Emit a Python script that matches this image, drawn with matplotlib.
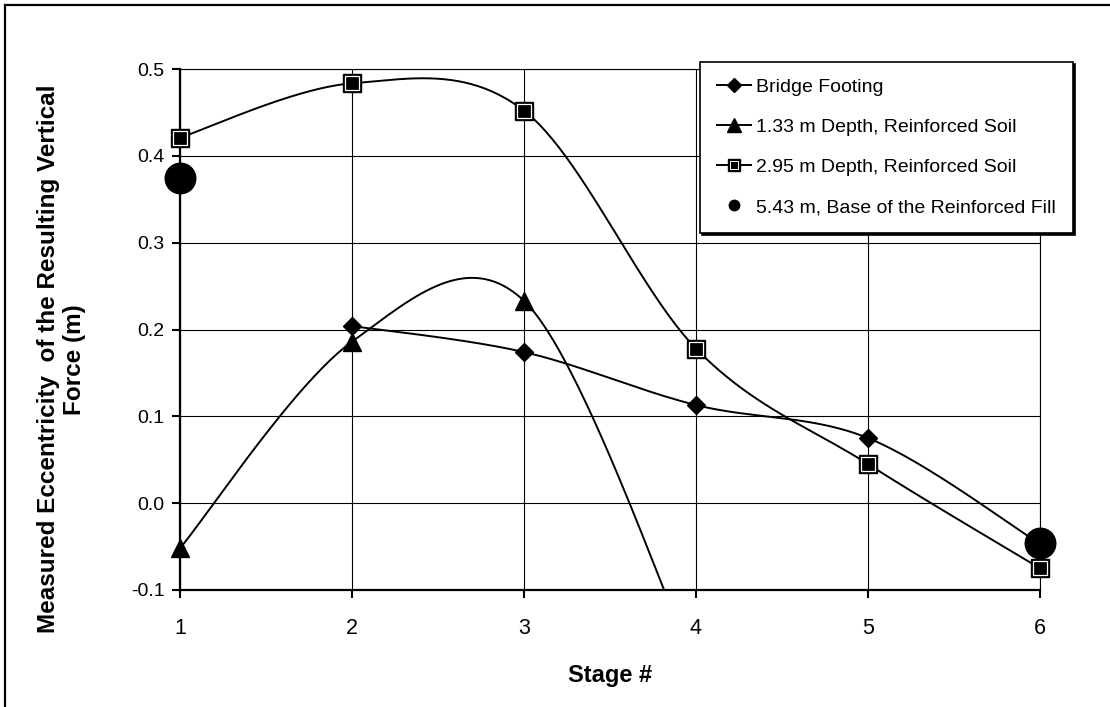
import numpy as np
import matplotlib
matplotlib.use("Agg")
import matplotlib.pyplot as plt
from matplotlib.lines import Line2D

plt.rcParams['font.family'] = ['Liberation Sans', 'DejaVu Sans']

# data
stages = [1, 2, 3, 4, 5, 6]
footing_x = [2, 3, 4, 5, 6]
footing_y = [0.204, 0.174, 0.113, 0.075, -0.047]
d133_x = [1, 2, 3, 4]
d133_y = [-0.052, 0.186, 0.233, -0.19]
d295_x = [1, 2, 3, 4, 5, 6]
d295_y = [0.421, 0.4835, 0.452, 0.178, 0.045, -0.075]
d543_x = [1, 6]
d543_y = [0.374, -0.046]

labels = ['Bridge Footing', '1.33 m Depth, Reinforced Soil',
          '2.95 m Depth, Reinforced Soil', '5.43 m, Base of the Reinforced Fill']


def smooth(x, y, n=50):
    # catmull-rom like the excel "smoothed line" option
    p = np.column_stack([x, y]).astype(float)
    p = np.vstack([p[0], p, p[-1]])
    out = []
    t = np.linspace(0, 1, n)[:, None]
    for i in range(1, len(p) - 2):
        p0, p1, p2, p3 = p[i - 1], p[i], p[i + 1], p[i + 2]
        m1 = (p2 - p0) / 2
        m2 = (p3 - p1) / 2
        h00 = 2 * t**3 - 3 * t**2 + 1
        h10 = t**3 - 2 * t**2 + t
        h01 = -2 * t**3 + 3 * t**2
        h11 = t**3 - t**2
        out.append(h00 * p1 + h10 * m1 + h01 * p2 + h11 * m2)
    out = np.vstack(out)
    return out[:, 0], out[:, 1]


fig = plt.figure(figsize=(11.1, 7.07), dpi=100)
ax = fig.add_axes([180 / 1110, 117 / 707, 860 / 1110, 521 / 707])

lw = 1.4
for xs, ys in [(footing_x, footing_y), (d133_x, d133_y), (d295_x, d295_y)]:
    sx, sy = smooth(xs, ys)
    ax.plot(sx, sy, color='black', lw=lw, zorder=3)

# markers
ax.plot(d543_x, d543_y, 'o', color='black', ms=22, clip_on=False, zorder=4)
ax.plot(footing_x, footing_y, 'D', color='black', ms=9.5, clip_on=False, zorder=5)
ax.plot(d133_x[:3], d133_y[:3], '^', color='black', ms=13, clip_on=False, zorder=5)
ax.plot(d295_x, d295_y, 's', color='black', ms=13, clip_on=False, zorder=5)
ax.plot(d295_x, d295_y, 's', mfc='black', mec='white', mew=0.9, ms=10.5,
        clip_on=False, zorder=6)

ax.set_xlim(1, 6)
ax.set_ylim(-0.1, 0.5)
ax.set_xticks(stages)
ax.set_yticks(np.arange(-0.1, 0.51, 0.1))
ax.set_yticklabels(['-0.1', '0.0', '0.1', '0.2', '0.3', '0.4', '0.5'])
ax.grid(True, color='black', lw=0.8)
ax.set_axisbelow(True)
for s in ['top', 'right']:
    ax.spines[s].set_linewidth(0.8)
for s in ['left', 'bottom']:
    ax.spines[s].set_linewidth(1.6)
ax.tick_params(axis='y', direction='out', length=6, width=1.5, pad=5, labelsize=14)
ax.tick_params(axis='x', direction='out', length=6, width=1.5, pad=14, labelsize=15.5)

ax.set_xlabel('Stage #', fontsize=17, fontweight='bold', labelpad=18)
ax.set_ylabel('Measured Eccentricity  of the Resulting Vertical\nForce (m)',
              fontsize=17.5, fontweight='bold', multialignment='center')
ax.yaxis.set_label_coords(-0.109, 0.443)

# legend with small markers
h1 = Line2D([], [], color='black', lw=lw, marker='D', ms=7.5)
h2 = Line2D([], [], color='black', lw=lw, marker='^', ms=9.5)
h3a = Line2D([], [], color='black', lw=lw, marker='s', ms=8)
h3b = Line2D([], [], ls='none', marker='s', mfc='black', mec='white', mew=0.7, ms=6)
h4 = Line2D([], [], ls='none', color='black', marker='o', ms=7.5)
leg = ax.legend([h1, h2, (h3a, h3b), h4], labels, loc='upper left',
                bbox_to_anchor=(700 / 1110, 1 - 62 / 707),
                bbox_transform=fig.transFigure, fontsize=14, frameon=True,
                fancybox=False, edgecolor='black', framealpha=1,
                handlelength=1.75, handletextpad=0.3, labelspacing=1.15,
                borderpad=0.85, borderaxespad=0,
                shadow={'color': 'black', 'alpha': 1, 'ox': 1.5, 'oy': -1.5})
leg.get_frame().set_linewidth(1.2)
leg.set_zorder(10)

# outer chart border (only left and top are inside the picture)
fig.add_artist(Line2D([5 / 1110, 5 / 1110], [0, 1 - 5 / 707], color='black', lw=1.6))
fig.add_artist(Line2D([5 / 1110, 1], [1 - 5 / 707, 1 - 5 / 707], color='black', lw=1.6))

fig.savefig('out.png', dpi=100)
